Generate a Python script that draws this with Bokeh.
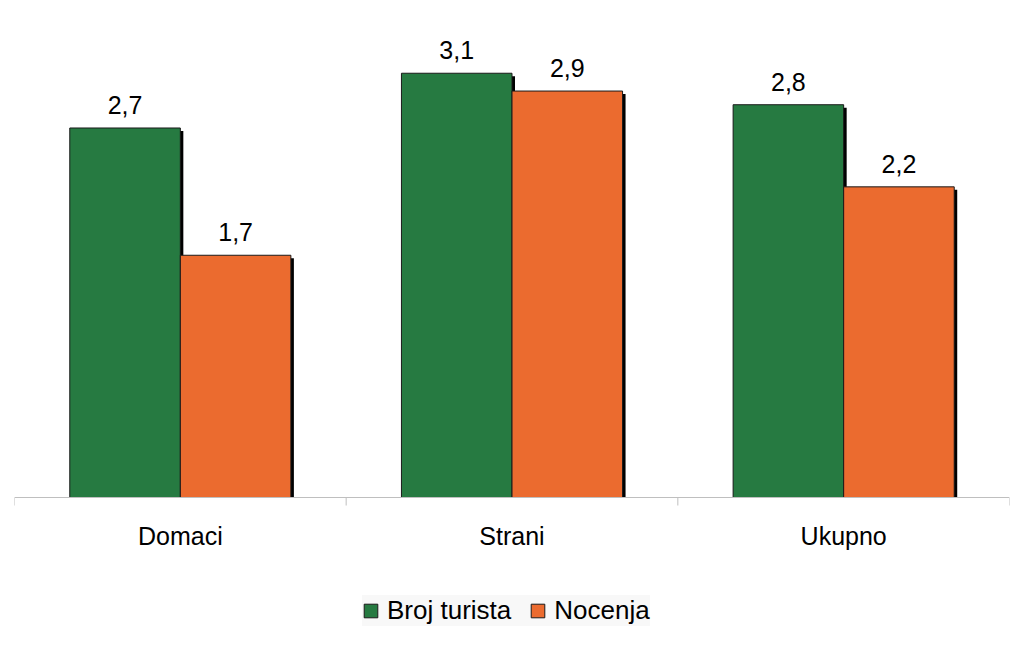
import numpy as np
from bokeh.plotting import figure
from bokeh.models import (Range1d, ColumnDataSource, LabelSet, Span,
                          Legend, LegendItem)
from bokeh.core.properties import value
from bokeh.embed import file_html
from bokeh.resources import INLINE

# ---- data ----
categories = ["Domaci", "Strani", "Ukupno"]
broj_turista = [2.70, 3.10, 2.87]
nocenja = [1.77, 2.97, 2.27]
broj_labels = ["2,7", "3,1", "2,8"]
nocenja_labels = ["1,7", "2,9", "2,2"]
series_names = ["Broj turista", "Nocenja"]

# ---- style ----
GREEN = "#267A41"
ORANGE = "#EB6B2F"
AXIS_GREY = "#bfbfbf"
FONT = "Liberation Sans"
FW = 995
PLOT_H = 479          # px from baseline to top of value area
BOTTOM_H = 153        # px below baseline (axis labels + legend)
BL, BR, BT = 14, 7, 18
Y_MAX = 3.5
BAR_W = 1 / 3
SHADOW_PX = 3
TICK_PX = 8

px_per_unit = PLOT_H / Y_MAX
y_min = -BOTTOM_H / px_per_unit
dx = SHADOW_PX / (FW / len(categories))
dy = SHADOW_PX / px_per_unit

xc = np.arange(len(categories)) + 0.5
x_g = xc - BAR_W / 2
x_o = xc + BAR_W / 2
bounds = np.arange(len(categories) + 1)

src_g = ColumnDataSource(dict(x=x_g, top=broj_turista, lab=broj_labels,
                              sx=x_g + dx, stop=np.array(broj_turista) - dy))
src_o = ColumnDataSource(dict(x=x_o, top=nocenja, lab=nocenja_labels,
                              sx=x_o + dx, stop=np.array(nocenja) - dy))
src_cat = ColumnDataSource(dict(x=xc, y=np.zeros(len(categories)),
                                lab=categories))
src_tick = ColumnDataSource(dict(x=bounds, y0=np.zeros(len(bounds)),
                                 y1=np.full(len(bounds), -TICK_PX / px_per_unit)))

p = figure(frame_width=FW, frame_height=PLOT_H + BOTTOM_H,
           output_backend="svg", toolbar_location=None,
           x_range=Range1d(0, len(categories)), y_range=Range1d(y_min, Y_MAX),
           min_border_left=BL, min_border_right=BR, min_border_top=BT,
           min_border_bottom=0, x_axis_location=None, y_axis_location=None)
p.outline_line_color = None
p.grid.visible = False
p.background_fill_color = "white"
p.border_fill_color = "white"

# shadows + bars
p.vbar(x="sx", top="stop", bottom=0, width=BAR_W, source=src_g,
       fill_color="black", line_color=None)
rg = p.vbar(x="x", top="top", bottom=0, width=BAR_W, source=src_g,
            fill_color=GREEN, line_color="#1a1a1a", line_width=1)
p.vbar(x="sx", top="stop", bottom=0, width=BAR_W, source=src_o,
       fill_color="black", line_color=None)
ro = p.vbar(x="x", top="top", bottom=0, width=BAR_W, source=src_o,
            fill_color=ORANGE, line_color="#1a1a1a", line_width=1)

# value labels
for src in (src_g, src_o):
    p.add_layout(LabelSet(x="x", y="top", text="lab", source=src,
                          y_offset=14, text_align="center",
                          text_baseline="alphabetic",
                          text_font=value(FONT), text_font_size=value("25px"),
                          text_color="black"))

# category axis: baseline, boundary ticks, labels
p.add_layout(Span(location=0, dimension="width", line_color=AXIS_GREY,
                  line_width=1))
p.segment(x0="x", y0="y0", x1="x", y1="y1", source=src_tick,
          line_color=AXIS_GREY, line_width=1)
p.add_layout(LabelSet(x="x", y="y", text="lab", source=src_cat,
                      y_offset=-47, text_align="center",
                      text_baseline="alphabetic",
                      text_font=value(FONT), text_font_size=value("25px"),
                      text_color="black"))

legend = Legend(items=[LegendItem(label=series_names[0], renderers=[rg]),
                       LegendItem(label=series_names[1], renderers=[ro])],
                orientation="horizontal", location=(348, 24),
                glyph_width=17, glyph_height=17, label_standoff=8,
                spacing=18, padding=6, margin=0,
                label_text_font=FONT, label_text_font_size="26px",
                label_text_color="black",
                background_fill_color="#f8f8f8", background_fill_alpha=1,
                border_line_color=None)
p.add_layout(legend, "center")

open("out.html", "w").write(file_html(p, INLINE))
